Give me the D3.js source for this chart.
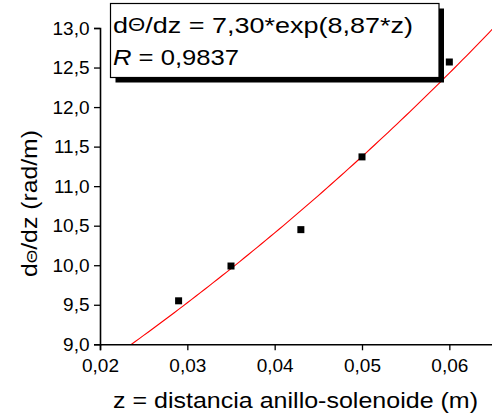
<!DOCTYPE html>
<html>
<head>
<meta charset="utf-8">
<script src="https://cdn.jsdelivr.net/npm/d3@7"></script>
<style>
  body { margin: 0; background: #fff; }
  text { font-family: Arial, "Liberation Sans", sans-serif; }
</style>
</head>
<body>
<svg id="chart"></svg>
<script>
// Chart data
const zValues = [0.029, 0.035, 0.043, 0.050, 0.060];
const dThetaValues = [9.55, 9.99, 10.45, 11.37, 12.57];
const fitA = 7.30, fitB = 8.87;   // dΘ/dz = A*exp(B*z)
const xTicks = [0.02, 0.03, 0.04, 0.05, 0.06];
const yTicks = [9.0, 9.5, 10.0, 10.5, 11.0, 11.5, 12.0, 12.5, 13.0];

const width = 492, height = 416;
const svg = d3.select("#chart").attr("width", width).attr("height", height);

// Scales
const x = d3.scaleLinear().domain([0.02, 0.065]).range([100, 493]);
const y = d3.scaleLinear().domain([9.0, 13.0]).range([344.3, 28]);

const fmt = d => d3.format(".2f")(d).replace(".", ",");
const fmtY = d => d3.format(".1f")(d).replace(".", ",");

// Clip for fit curve
svg.append("clipPath").attr("id", "plotClip")
    .append("rect").attr("x", 100).attr("y", 28).attr("width", 393).attr("height", 316.3);

// Fit curve
const fitPts = d3.range(0.02, 0.0651, 0.0005).map(z => [z, fitA * Math.exp(fitB * z)]);
svg.append("path")
    .datum(fitPts)
    .attr("clip-path", "url(#plotClip)")
    .attr("fill", "none")
    .attr("stroke", "#ff0000")
    .attr("stroke-width", 1.1)
    .attr("d", d3.line().x(d => x(d[0])).y(d => y(d[1])));

// X axis (major + minor ticks)
const xAxisG = svg.append("g").attr("transform", `translate(0,${y(9.0)})`);
xAxisG.call(d3.axisBottom(x).tickValues(d3.range(0.025, 0.065, 0.01)).tickSize(3).tickFormat(""));
xAxisG.call(d3.axisBottom(x).tickValues(xTicks).tickSize(6).tickPadding(8).tickFormat(fmt));
xAxisG.selectAll("path").attr("stroke-width", 1.6);

// Y axis (major + minor ticks)
const yAxisG = svg.append("g").attr("transform", `translate(${x(0.02)},0)`);
yAxisG.call(d3.axisLeft(y).tickValues(d3.range(9.25, 13.0, 0.5)).tickSize(3).tickFormat(""));
yAxisG.call(d3.axisLeft(y).tickValues(yTicks).tickSize(6).tickPadding(4.5).tickFormat(fmtY));
yAxisG.selectAll("path").attr("stroke-width", 1.6);

svg.selectAll(".tick line").attr("stroke-width", 1.3);
svg.selectAll(".domain").attr("stroke", "#000");
svg.selectAll(".tick text").attr("font-size", 19).attr("fill", "#000")
    .style("font-family", "Arial, 'Liberation Sans', sans-serif");

// Data points
svg.selectAll(".pt")
    .data(zValues.map((z, i) => [z, dThetaValues[i]]))
    .enter().append("rect")
    .attr("class", "pt")
    .attr("x", d => x(d[0]) - 3.5)
    .attr("y", d => y(d[1]) - 3.5)
    .attr("width", 7)
    .attr("height", 7)
    .attr("fill", "#000");

// Axis titles (text is a bit wider than normal in the original)
svg.append("text")
    .attr("x", 113).attr("y", 408)
    .attr("font-size", 21.5)
    .attr("textLength", 365).attr("lengthAdjust", "spacingAndGlyphs")
    .text("z = distancia anillo-solenoide (m)");

const yTitle = svg.append("text")
    .attr("transform", "translate(37,277) rotate(-90)")
    .attr("font-size", 21.5)
    .attr("textLength", 147).attr("lengthAdjust", "spacingAndGlyphs");
yTitle.append("tspan").text("d");
yTitle.append("tspan").attr("font-size", 15).text("Θ");
yTitle.append("tspan").text("/dz (rad/m)");

// Legend box with drop shadow
const box = { x: 110.5, y: 3.5, w: 328.5, h: 74 };
svg.append("rect")
    .attr("x", box.x + 5).attr("y", box.y + 5)
    .attr("width", box.w).attr("height", box.h)
    .attr("fill", "#000");
svg.append("rect")
    .attr("x", box.x).attr("y", box.y)
    .attr("width", box.w).attr("height", box.h)
    .attr("fill", "#fff").attr("stroke", "#000").attr("stroke-width", 1.2);

const line1 = svg.append("text")
    .attr("x", 113).attr("y", 33.3)
    .attr("font-size", 22)
    .attr("textLength", 300).attr("lengthAdjust", "spacingAndGlyphs");
line1.append("tspan").text("d");
line1.append("tspan").attr("font-size", 18).attr("dy", -2).text("Θ");
line1.append("tspan").attr("dy", 2).text("/dz = 7,30*exp(8,87*z)");

const line2 = svg.append("text")
    .attr("x", 113).attr("y", 64.5)
    .attr("font-size", 22)
    .attr("textLength", 126).attr("lengthAdjust", "spacingAndGlyphs");
line2.append("tspan").attr("font-style", "italic").text("R");
line2.append("tspan").text(" = 0,9837");
</script>
</body>
</html>
